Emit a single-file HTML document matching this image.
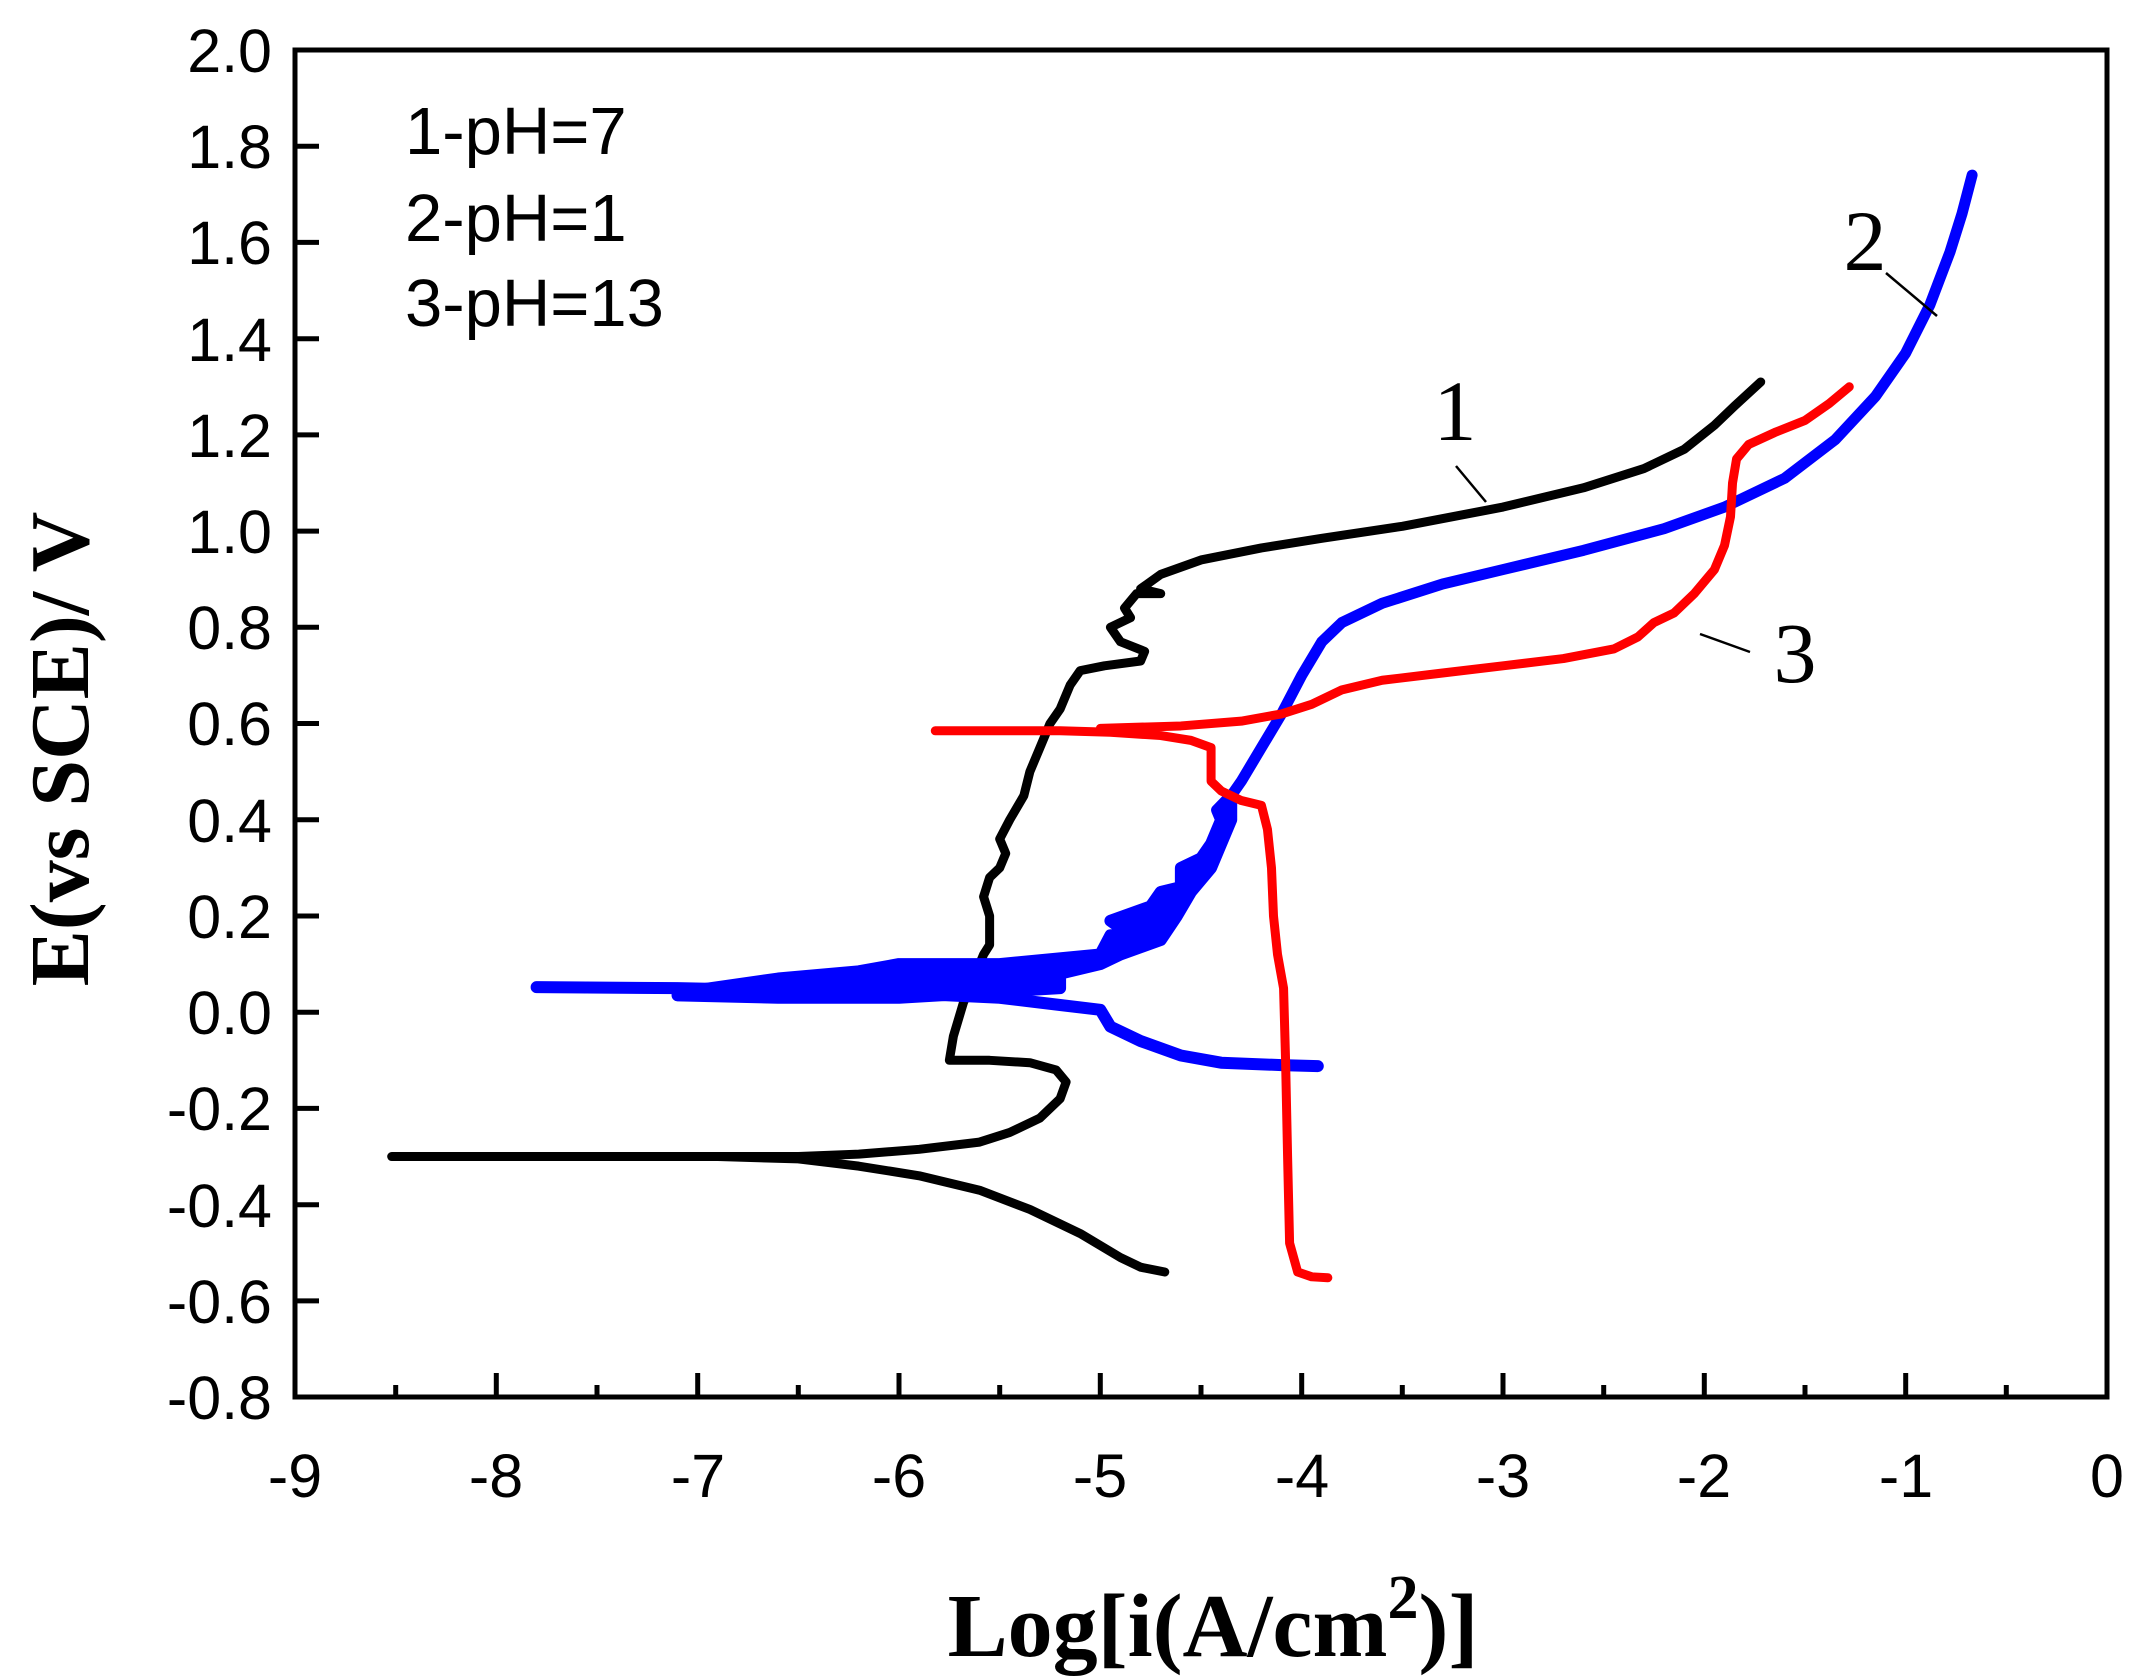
<!DOCTYPE html>
<html><head><meta charset="utf-8"><style>
html,body{margin:0;padding:0;background:#fff;}
svg{display:block;}
.t{font-family:"Liberation Sans",sans-serif;font-size:61px;fill:#000;}
.s{font-family:"Liberation Serif",serif;fill:#000;}
</style></head><body>
<svg width="2152" height="1676" viewBox="0 0 2152 1676" xmlns="http://www.w3.org/2000/svg">
<rect width="2152" height="1676" fill="#fff"/>
<g transform="matrix(201.33,0,0,-481.1,2107,1012.2)" fill="none" stroke-linejoin="round" stroke-linecap="round">
<path vector-effect="non-scaling-stroke" stroke="#000" stroke-width="9" d="M-8.52,-0.30 L-7,-0.30 L-6.5,-0.30 L-6.2,-0.295 L-5.9,-0.285 L-5.6,-0.27 L-5.45,-0.25 L-5.3,-0.22 L-5.2,-0.18 L-5.17,-0.145 L-5.22,-0.12 L-5.35,-0.105 L-5.55,-0.10 L-5.75,-0.10 L-5.73,-0.05 L-5.68,0.02 L-5.62,0.08 L-5.58,0.12 L-5.55,0.14 L-5.55,0.2 L-5.58,0.24 L-5.55,0.28 L-5.5,0.3 L-5.47,0.33 L-5.5,0.36 L-5.45,0.4 L-5.38,0.45 L-5.35,0.5 L-5.3,0.55 L-5.25,0.6 L-5.2,0.63 L-5.15,0.68 L-5.1,0.71 L-4.98,0.72 L-4.8,0.73 L-4.78,0.75 L-4.9,0.77 L-4.95,0.8 L-4.85,0.82 L-4.88,0.84 L-4.82,0.87 L-4.7,0.87 L-4.8,0.88 L-4.7,0.91 L-4.5,0.94 L-4.2,0.965 L-3.9,0.985 L-3.5,1.01 L-3.0,1.05 L-2.6,1.09 L-2.3,1.13 L-2.1,1.17 L-1.95,1.22 L-1.85,1.26 L-1.72,1.31"/>
<path vector-effect="non-scaling-stroke" stroke="#000" stroke-width="9" d="M-6.9,-0.30 L-6.5,-0.305 L-6.2,-0.32 L-5.9,-0.34 L-5.6,-0.37 L-5.35,-0.41 L-5.1,-0.46 L-4.9,-0.51 L-4.8,-0.53 L-4.68,-0.54"/>
<path vector-effect="non-scaling-stroke" stroke="#0000ff" stroke-width="12" d="M-7.8,0.052 L-7.1,0.05 L-6.5,0.045 L-6.0,0.04 L-5.5,0.03 L-5.2,0.015 L-5.0,0.005 L-4.95,-0.03 L-4.8,-0.06 L-4.6,-0.09 L-4.4,-0.105 L-4.1,-0.11 L-3.92,-0.112"/>
<path vector-effect="non-scaling-stroke" stroke="#0000ff" stroke-width="12" fill="#0000ff" d="M-7.1,0.04 L-6.6,0.07 L-6.2,0.085 L-6.0,0.10 L-5.5,0.10 L-5.0,0.12 L-4.95,0.16 L-4.85,0.16 L-4.95,0.19 L-4.75,0.22 L-4.7,0.25 L-4.6,0.26 L-4.6,0.30 L-4.5,0.32 L-4.45,0.35 L-4.4,0.40 L-4.42,0.42 L-4.35,0.45 L-4.35,0.40 L-4.45,0.30 L-4.55,0.25 L-4.62,0.20 L-4.7,0.15 L-4.9,0.12 L-5.0,0.10 L-5.2,0.08 L-5.2,0.05 L-5.6,0.04 L-6.0,0.03 L-6.6,0.03 L-7.1,0.035 Z"/>
<path vector-effect="non-scaling-stroke" stroke="#0000ff" stroke-width="11" d="M-4.4,0.42 L-4.3,0.48 L-4.2,0.55 L-4.1,0.62 L-4.0,0.70 L-3.9,0.77 L-3.8,0.81 L-3.6,0.85 L-3.3,0.89 L-3.0,0.92 L-2.6,0.96 L-2.2,1.005 L-1.9,1.05 L-1.6,1.11 L-1.35,1.19 L-1.15,1.28 L-1.0,1.37 L-0.88,1.47 L-0.78,1.58 L-0.72,1.66 L-0.67,1.74"/>
<path vector-effect="non-scaling-stroke" stroke="#ff0000" stroke-width="9" d="M-5.82,0.585 L-5.2,0.585 L-4.95,0.582 L-4.7,0.575 L-4.55,0.565 L-4.45,0.55 L-4.45,0.48 L-4.4,0.46 L-4.3,0.44 L-4.2,0.43 L-4.17,0.38 L-4.15,0.30 L-4.14,0.2 L-4.12,0.12 L-4.09,0.05 L-4.08,-0.1 L-4.07,-0.3 L-4.06,-0.48 L-4.02,-0.54 L-3.95,-0.55 L-3.87,-0.552"/>
<path vector-effect="non-scaling-stroke" stroke="#ff0000" stroke-width="9" d="M-5.0,0.59 L-4.6,0.595 L-4.3,0.605 L-4.1,0.62 L-3.95,0.64 L-3.8,0.67 L-3.6,0.69 L-3.3,0.705 L-3.0,0.72 L-2.7,0.735 L-2.45,0.755 L-2.33,0.78 L-2.25,0.81 L-2.15,0.83 L-2.05,0.87 L-1.95,0.92 L-1.9,0.97 L-1.87,1.03 L-1.86,1.1 L-1.84,1.15 L-1.78,1.18 L-1.65,1.205 L-1.5,1.23 L-1.38,1.265 L-1.28,1.30"/>
</g>
<rect x="295" y="50" width="1812" height="1347" fill="none" stroke="#000" stroke-width="5"/>
<g stroke="#000" stroke-width="5">
<line x1="295" y1="1397" x2="295" y2="1373"/><line x1="395.7" y1="1397" x2="395.7" y2="1385"/>
<line x1="496.3" y1="1397" x2="496.3" y2="1373"/><line x1="597" y1="1397" x2="597" y2="1385"/>
<line x1="697.7" y1="1397" x2="697.7" y2="1373"/><line x1="798.3" y1="1397" x2="798.3" y2="1385"/>
<line x1="899" y1="1397" x2="899" y2="1373"/><line x1="999.7" y1="1397" x2="999.7" y2="1385"/>
<line x1="1100.3" y1="1397" x2="1100.3" y2="1373"/><line x1="1201" y1="1397" x2="1201" y2="1385"/>
<line x1="1301.7" y1="1397" x2="1301.7" y2="1373"/><line x1="1402.3" y1="1397" x2="1402.3" y2="1385"/>
<line x1="1503" y1="1397" x2="1503" y2="1373"/><line x1="1603.7" y1="1397" x2="1603.7" y2="1385"/>
<line x1="1704.3" y1="1397" x2="1704.3" y2="1373"/><line x1="1805" y1="1397" x2="1805" y2="1385"/>
<line x1="1905.7" y1="1397" x2="1905.7" y2="1373"/><line x1="2006.3" y1="1397" x2="2006.3" y2="1385"/>
<line x1="295" y1="146.2" x2="319" y2="146.2"/><line x1="295" y1="242.4" x2="319" y2="242.4"/>
<line x1="295" y1="338.7" x2="319" y2="338.7"/><line x1="295" y1="434.9" x2="319" y2="434.9"/>
<line x1="295" y1="531.1" x2="319" y2="531.1"/><line x1="295" y1="627.3" x2="319" y2="627.3"/>
<line x1="295" y1="723.5" x2="319" y2="723.5"/><line x1="295" y1="819.8" x2="319" y2="819.8"/>
<line x1="295" y1="916" x2="319" y2="916"/><line x1="295" y1="1012.2" x2="319" y2="1012.2"/>
<line x1="295" y1="1108.4" x2="319" y2="1108.4"/><line x1="295" y1="1204.7" x2="319" y2="1204.7"/>
<line x1="295" y1="1300.9" x2="319" y2="1300.9"/>
</g>
<g class="t" text-anchor="end">
<text x="272" y="72">2.0</text><text x="272" y="168">1.8</text><text x="272" y="264">1.6</text>
<text x="272" y="361">1.4</text><text x="272" y="457">1.2</text><text x="272" y="553">1.0</text>
<text x="272" y="649">0.8</text><text x="272" y="745">0.6</text><text x="272" y="842">0.4</text>
<text x="272" y="938">0.2</text><text x="272" y="1034">0.0</text><text x="272" y="1130">-0.2</text>
<text x="272" y="1227">-0.4</text><text x="272" y="1323">-0.6</text><text x="272" y="1419">-0.8</text>
</g>
<g class="t" text-anchor="middle">
<text x="295" y="1497">-9</text><text x="496" y="1497">-8</text><text x="698" y="1497">-7</text>
<text x="899" y="1497">-6</text><text x="1100" y="1497">-5</text><text x="1302" y="1497">-4</text>
<text x="1503" y="1497">-3</text><text x="1704" y="1497">-2</text><text x="1906" y="1497">-1</text>
<text x="2107" y="1497">0</text>
</g>
<g class="t" style="font-size:67px">
<text x="405" y="154">1-pH=7</text><text x="405" y="241">2-pH=1</text><text x="405" y="326">3-pH=13</text>
</g>
<text class="s" x="1455" y="440" font-size="86" text-anchor="middle">1</text>
<text class="s" x="1865" y="270" font-size="86" text-anchor="middle">2</text>
<text class="s" x="1795" y="682" font-size="86" text-anchor="middle">3</text>
<g stroke="#000" stroke-width="2.5">
<line x1="1456" y1="466" x2="1486" y2="502"/>
<line x1="1886" y1="273" x2="1937" y2="316"/>
<line x1="1750" y1="652" x2="1700" y2="634"/>
</g>
<text class="s" transform="translate(88,749) rotate(-90)" font-size="84" font-weight="bold" text-anchor="middle">E(vs SCE)/ V</text>
<text class="s" x="1213" y="1656" font-size="90" font-weight="bold" text-anchor="middle">Log[i(A/cm<tspan font-size="62" dy="-38">2</tspan><tspan dy="38">)]</tspan></text>
</svg>
</body></html>
